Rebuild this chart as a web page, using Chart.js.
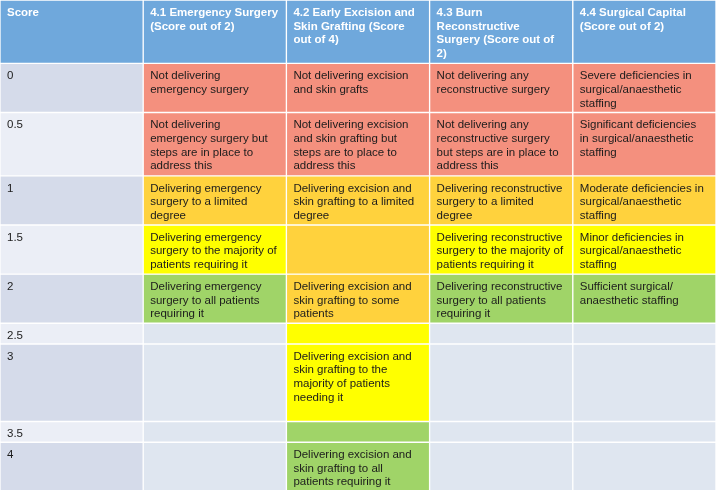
<!DOCTYPE html>
<html>
<head>
<meta charset="utf-8">
<script src="https://cdn.jsdelivr.net/npm/chart.js@4.4.0/dist/chart.umd.min.js"></script>
<style>
  body { margin: 0; background: #fff; }
  #wrap { width: 716px; height: 490px; }
</style>
</head>
<body>
<div id="wrap"><canvas id="myChart"></canvas></div>
<script>
// Table contents (line breaks as in the original)
const headers = [
  'Score',
  '4.1 Emergency Surgery\n(Score out of 2)',
  '4.2 Early Excision and\nSkin Grafting (Score\nout of 4)',
  '4.3 Burn\nReconstructive\nSurgery (Score out of\n2)',
  '4.4 Surgical Capital\n(Score out of 2)'
];

const scores = ['0', '0.5', '1', '1.5', '2', '2.5', '3', '3.5', '4'];

const emergencySurgery = [
  'Not delivering\nemergency surgery',
  'Not delivering\nemergency surgery but\nsteps are in place to\naddress this',
  'Delivering emergency\nsurgery to a limited\ndegree',
  'Delivering emergency\nsurgery to the majority of\npatients requiring it',
  'Delivering emergency\nsurgery to all patients\nrequiring it',
  '', '', '', ''
];
const emergencyLevel = ['red', 'red', 'orange', 'yellow', 'green', '', '', '', ''];

const excisionGrafting = [
  'Not delivering excision\nand skin grafts',
  'Not delivering excision\nand skin grafting but\nsteps are to place to\naddress this',
  'Delivering excision and\nskin grafting to a limited\ndegree',
  '',
  'Delivering excision and\nskin grafting to some\npatients',
  '',
  'Delivering excision and\nskin grafting to the\nmajority of patients\nneeding it\n',
  '',
  'Delivering excision and\nskin grafting to all\npatients requiring it'
];
const excisionLevel = ['red', 'red', 'orange', 'orange', 'orange', 'yellow', 'yellow', 'green', 'green'];

const reconstructiveSurgery = [
  'Not delivering any\nreconstructive surgery',
  'Not delivering any\nreconstructive surgery\nbut steps are in place to\naddress this',
  'Delivering reconstructive\nsurgery to a limited\ndegree',
  'Delivering reconstructive\nsurgery to the majority of\npatients requiring it',
  'Delivering reconstructive\nsurgery to all patients\nrequiring it',
  '', '', '', ''
];
const reconstructiveLevel = ['red', 'red', 'orange', 'yellow', 'green', '', '', '', ''];

const surgicalCapital = [
  'Severe deficiencies in\nsurgical/anaesthetic\nstaffing',
  'Significant deficiencies\nin surgical/anaesthetic\nstaffing',
  'Moderate deficiencies in\nsurgical/anaesthetic\nstaffing',
  'Minor deficiencies in\nsurgical/anaesthetic\nstaffing',
  'Sufficient surgical/\nanaesthetic staffing',
  '', '', '', ''
];
const capitalLevel = ['red', 'red', 'orange', 'yellow', 'green', '', '', '', ''];

// colours
const levelColors = { red: '#f4907e', orange: '#ffd23d', yellow: '#ffff00', green: '#a0d468' };
const headerColor = '#6fa8dc';
const emptyColor = '#dfe6f0';
const scoreColors = ['#d5dbea', '#ebeef6'];

//---------------------------------------------------------------------------
// build rows: header + one row per score
const rows = [{ texts: headers, colors: headers.map(() => headerColor) }];
scores.forEach((s, r) => {
  const levels = [emergencyLevel[r], excisionLevel[r], reconstructiveLevel[r], capitalLevel[r]];
  rows.push({
    texts: [s, emergencySurgery[r], excisionGrafting[r], reconstructiveSurgery[r], surgicalCapital[r]],
    colors: [scoreColors[r % 2]].concat(levels.map(l => l ? levelColors[l] : emptyColor))
  });
});

// row height follows the number of text lines
const pad = 0.46;
let start = 0;
const datasets = rows.map(row => {
  const lines = Math.max(...row.texts.map(t => t.split('\n').length));
  const end = start + lines + pad;
  const ds = {
    data: row.texts.map(() => [start, end]),
    texts: row.texts,
    backgroundColor: row.colors,
    borderColor: '#ffffff',
    borderWidth: 1,
    borderSkipped: false,
    grouped: false,
    barPercentage: 1,
    categoryPercentage: 1,
    clip: 0
  };
  start = end;
  return ds;
});

// text inside the cells
const cellText = {
  id: 'cellText',
  afterDatasetsDraw(chart) {
    const ctx = chart.ctx;
    ctx.save();
    chart.data.datasets.forEach((ds, i) => {
      chart.getDatasetMeta(i).data.forEach((bar, j) => {
        const text = ds.texts[j];
        if (!text) return;
        const top = Math.min(bar.y, bar.base);
        const left = bar.x - bar.width / 2;
        ctx.font = (i === 0 ? 'bold ' : '') + '11.5px "Liberation Sans", Arial, sans-serif';
        ctx.fillStyle = i === 0 ? '#ffffff' : '#1c1c1c';
        ctx.textBaseline = 'alphabetic';
        text.split('\n').forEach((line, k) => {
          ctx.fillText(line, left + 7, top + 15.8 + k * 13.7);
        });
      });
    });
    ctx.restore();
  }
};

const ctx = document.getElementById('myChart');
new Chart(ctx, {
  type: 'bar',
  data: {
    labels: headers.map(h => h.split('\n')[0]),
    datasets: datasets
  },
  options: {
    responsive: true,
    maintainAspectRatio: false,
    animation: false,
    devicePixelRatio: 1,
    layout: { padding: 0 },
    plugins: {
      legend: { display: false },
      tooltip: { enabled: false }
    },
    scales: {
      x: { display: false, offset: true },
      // the last row runs past the bottom edge, as in the source image
      y: { display: false, reverse: true, min: 0, max: start - 0.1 }
    }
  },
  plugins: [cellText]
});
</script>
</body>
</html>
